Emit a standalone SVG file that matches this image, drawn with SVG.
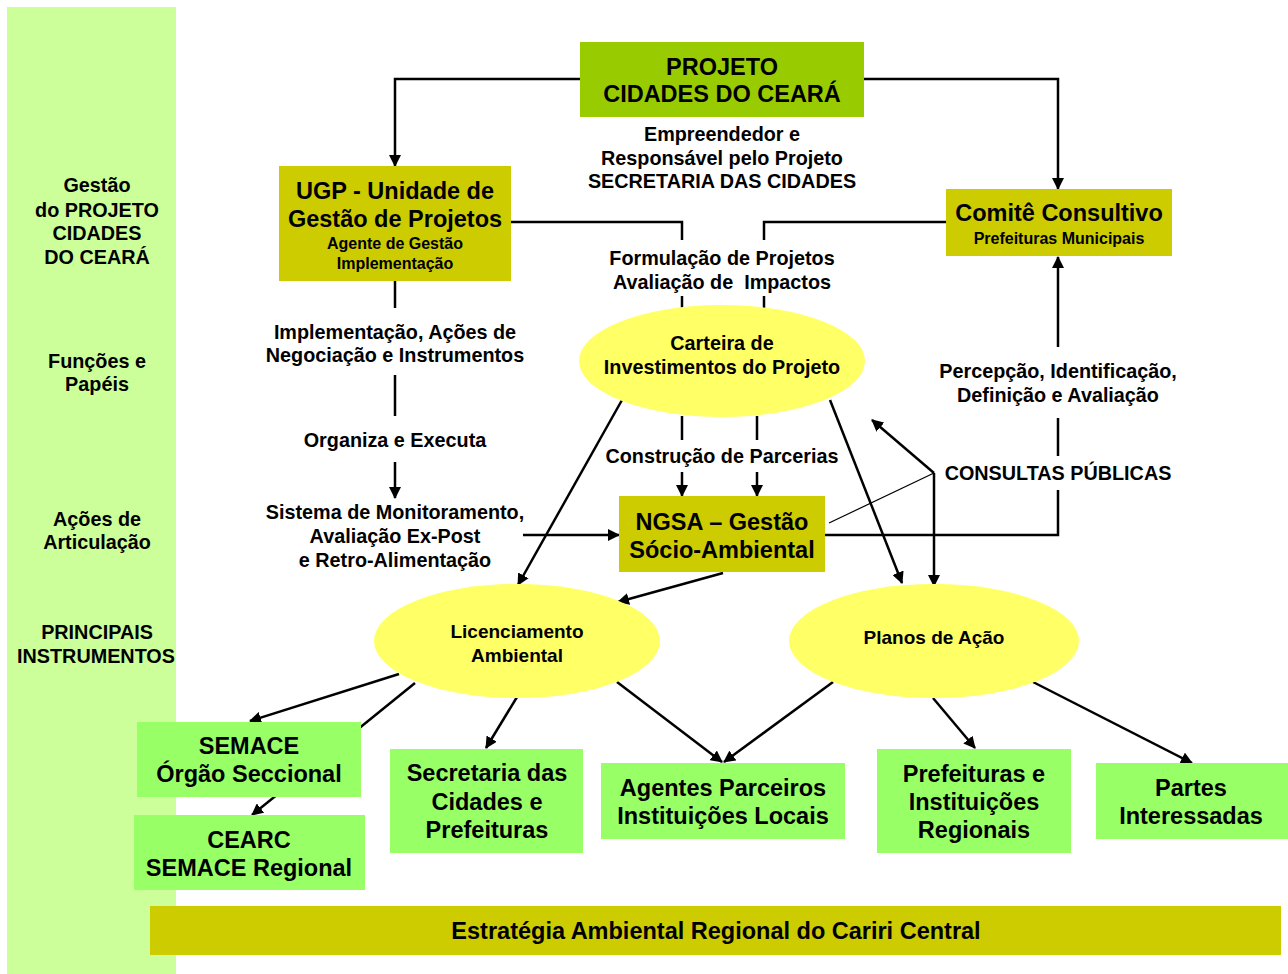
<svg xmlns="http://www.w3.org/2000/svg" width="1288" height="974" viewBox="0 0 1288 974">
<style>
text{font-family:"Liberation Sans",Arial,sans-serif;font-weight:bold;fill:#000;text-anchor:middle}
.t17{font-size:19.8px}
.t21{font-size:23.5px}
.t14{font-size:16px}
.t16{font-size:19px}
.ln{stroke:#000;stroke-width:2.5;fill:none}
.ar{stroke:#000;stroke-width:2.5;fill:none;marker-end:url(#ah)}
.thin{stroke:#000;stroke-width:1.2;fill:none}
.olive{fill:#CCCC00}
.lime{fill:#99CC00}
.green{fill:#99FF66}
.yel{fill:#FFFF66}
</style>
<defs>
<marker id="ah" markerUnits="userSpaceOnUse" markerWidth="12" markerHeight="12" refX="11" refY="6" orient="auto">
<path d="M0,0 L12,6 L0,12 z" fill="#000"/>
</marker>
</defs>
<rect width="1288" height="974" fill="#fff"/>
<g id="band">
<rect x="7" y="7" width="169" height="967" fill="#CCFF99"/>
<text class="t17" x="97" y="192">Gestão</text>
<text class="t17" x="97" y="217">do PROJETO</text>
<text class="t17" x="97" y="240">CIDADES</text>
<text class="t17" x="97" y="264">DO CEARÁ</text>
<text class="t17" x="97" y="368">Funções e</text>
<text class="t17" x="97" y="391">Papéis</text>
<text class="t17" x="97" y="526">Ações de</text>
<text class="t17" x="97" y="549">Articulação</text>
<text class="t17" x="97" y="639">PRINCIPAIS</text>
<text class="t17" x="96" y="663">INSTRUMENTOS</text>
</g>
<g id="connectors">
<polyline class="ar" points="580,79 395,79 395,166"/>
<polyline class="ar" points="864,79 1058,79 1058,189"/>
<polyline class="ln" points="511,222 682,222 682,240"/>
<polyline class="ln" points="946,222 764,222 764,240"/>
<line class="ln" x1="682" y1="296" x2="682" y2="308"/>
<line class="ln" x1="764" y1="296" x2="764" y2="308"/>
<line class="ln" x1="682" y1="416" x2="682" y2="440"/>
<line class="ln" x1="757" y1="416" x2="757" y2="440"/>
<line class="ar" x1="682" y1="472" x2="682" y2="496"/>
<line class="ar" x1="757" y1="472" x2="757" y2="496"/>
<line class="ln" x1="395" y1="281" x2="395" y2="308"/>
<line class="ln" x1="395" y1="375" x2="395" y2="416"/>
<line class="ar" x1="395" y1="462" x2="395" y2="498"/>
<line class="ar" x1="523" y1="535" x2="619" y2="535"/>
<polyline class="ln" points="825,535 1058,535 1058,490"/>
<line class="ln" x1="1058" y1="456" x2="1058" y2="418"/>
<line class="ar" x1="1058" y1="347" x2="1058" y2="257"/>
<line class="ar" x1="934" y1="473" x2="872" y2="420"/>
<line class="ar" x1="934" y1="473" x2="934" y2="586"/>
<line class="thin" x1="934" y1="473" x2="829" y2="523"/>
<line class="ar" x1="622" y1="400" x2="518" y2="585"/>
<line class="ar" x1="830" y1="400" x2="902" y2="583"/>
<line class="ar" x1="723" y1="573" x2="618" y2="602"/>
<line class="ar" x1="399" y1="674" x2="250" y2="721"/>
<line class="ar" x1="415" y1="683" x2="252" y2="815"/>
<line class="ar" x1="517" y1="697" x2="486" y2="748"/>
<line class="ar" x1="617" y1="682" x2="722" y2="762"/>
<line class="ar" x1="833" y1="682" x2="724" y2="762"/>
<line class="ar" x1="933" y1="698" x2="975" y2="748"/>
<line class="ar" x1="1033" y1="682" x2="1192" y2="763"/>
</g>
<g id="projeto">
<rect class="lime" x="580" y="42" width="284" height="75"/>
<text class="t21" x="722" y="75">PROJETO</text>
<text class="t21" x="722" y="102">CIDADES DO CEARÁ</text>
</g>
<g id="projeto-label">
<text class="t17" x="722" y="141">Empreendedor e</text>
<text class="t17" x="722" y="165">Responsável pelo Projeto</text>
<text class="t17" x="722" y="188">SECRETARIA DAS CIDADES</text>
</g>
<g id="ugp">
<rect class="olive" x="279" y="166" width="232" height="115"/>
<text class="t21" x="395" y="199">UGP - Unidade de</text>
<text class="t21" x="395" y="227">Gestão de Projetos</text>
<text class="t14" x="395" y="249">Agente de Gestão</text>
<text class="t14" x="395" y="269">Implementação</text>
</g>
<g id="comite">
<rect class="olive" x="946" y="189" width="226" height="67"/>
<text class="t21" x="1059" y="221">Comitê Consultivo</text>
<text class="t14" x="1059" y="244">Prefeituras Municipais</text>
</g>
<g id="formulacao">
<text class="t17" x="722" y="265">Formulação de Projetos</text>
<text class="t17" x="722" y="289">Avaliação de&#160; Impactos</text>
</g>
<g id="carteira">
<ellipse class="yel" cx="722" cy="361" rx="143" ry="56"/>
<text class="t17" x="722" y="350">Carteira de</text>
<text class="t17" x="722" y="374">Investimentos do Projeto</text>
</g>
<g id="parcerias">
<text class="t17" x="722" y="463">Construção de Parcerias</text>
</g>
<g id="ugp-labels">
<text class="t17" x="395" y="339">Implementação, Ações de</text>
<text class="t17" x="395" y="362">Negociação e Instrumentos</text>
<text class="t17" x="395" y="447">Organiza e Executa</text>
<text class="t17" x="395" y="519">Sistema de Monitoramento,</text>
<text class="t17" x="395" y="543">Avaliação Ex-Post</text>
<text class="t17" x="395" y="567">e Retro-Alimentação</text>
</g>
<g id="comite-labels">
<text class="t17" x="1058" y="378">Percepção, Identificação,</text>
<text class="t17" x="1058" y="402">Definição e Avaliação</text>
<text class="t17" x="1058" y="480">CONSULTAS PÚBLICAS</text>
</g>
<g id="ngsa">
<rect class="olive" x="619" y="496" width="206" height="76"/>
<text class="t21" x="722" y="530">NGSA – Gestão</text>
<text class="t21" x="722" y="558">Sócio-Ambiental</text>
</g>
<g id="licenciamento">
<ellipse class="yel" cx="517" cy="641" rx="143" ry="57"/>
<text class="t16" x="517" y="638">Licenciamento</text>
<text class="t16" x="517" y="662">Ambiental</text>
</g>
<g id="planos">
<ellipse class="yel" cx="934" cy="641" rx="145" ry="57"/>
<text class="t16" x="934" y="644">Planos de Ação</text>
</g>
<g id="semace">
<rect class="green" x="137" y="722" width="224" height="75"/>
<text class="t21" x="249" y="754">SEMACE</text>
<text class="t21" x="249" y="782">Órgão Seccional</text>
</g>
<g id="cearc">
<rect class="green" x="134" y="815" width="231" height="75"/>
<text class="t21" x="249" y="848">CEARC</text>
<text class="t21" x="249" y="876">SEMACE Regional</text>
</g>
<g id="secretaria">
<rect class="green" x="390" y="749" width="193" height="104"/>
<text class="t21" x="487" y="781">Secretaria das</text>
<text class="t21" x="487" y="810">Cidades e</text>
<text class="t21" x="487" y="838">Prefeituras</text>
</g>
<g id="agentes">
<rect class="green" x="601" y="763" width="244" height="76"/>
<text class="t21" x="723" y="796">Agentes Parceiros</text>
<text class="t21" x="723" y="824">Instituições Locais</text>
</g>
<g id="prefeituras">
<rect class="green" x="877" y="749" width="194" height="104"/>
<text class="t21" x="974" y="782">Prefeituras e</text>
<text class="t21" x="974" y="810">Instituições</text>
<text class="t21" x="974" y="838">Regionais</text>
</g>
<g id="partes">
<rect class="green" x="1096" y="763" width="192" height="76"/>
<text class="t21" x="1191" y="796">Partes</text>
<text class="t21" x="1191" y="824">Interessadas</text>
</g>
<g id="estrategia">
<rect class="olive" x="150" y="906" width="1131" height="49"/>
<text class="t21" x="716" y="939">Estratégia Ambiental Regional do Cariri Central</text>
</g>
</svg>
